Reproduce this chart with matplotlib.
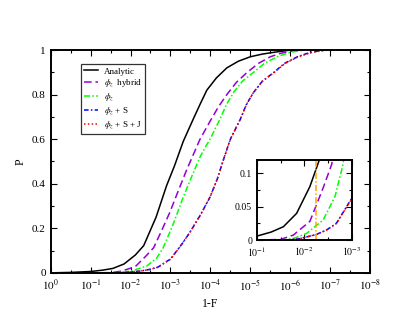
import matplotlib
matplotlib.use("Agg")
import matplotlib.pyplot as plt
import numpy as np
from matplotlib.ticker import FixedLocator, MultipleLocator

plt.rcParams["font.family"] = ["Liberation Serif", "DejaVu Serif"]
plt.rcParams["mathtext.fontset"] = "stix"

# values: exponents of 1-F and the matching P
ANALYTIC_LOGX = [0, -0.5, -1, -1.3, -1.56, -1.84, -2.12, -2.33, -2.47, -2.64, -2.77, -2.9,
                 -3.1, -3.32, -3.57, -3.75, -3.91, -4.15, -4.41, -4.7, -5.0, -5.3, -5.59, -6.0]
ANALYTIC_P = [0.0, 0.002, 0.006, 0.012, 0.02, 0.04, 0.08, 0.122, 0.18, 0.25, 0.32, 0.39,
              0.48, 0.59, 0.69, 0.76, 0.82, 0.875, 0.92, 0.95, 0.97, 0.982, 0.99, 1.0]

HYBRID_LOGX = [-1.0, -1.5, -1.77, -2.12, -2.4, -2.58, -2.78, -2.98, -3.2, -3.4, -3.57, -3.74,
               -3.99, -4.2, -4.41, -4.65, -4.92, -5.2, -5.5, -5.75, -6.0, -6.3]
HYBRID_P = [0.0, 0.001, 0.0075, 0.028, 0.078, 0.113, 0.19, 0.27, 0.37, 0.46, 0.53, 0.60,
            0.68, 0.745, 0.80, 0.855, 0.90, 0.94, 0.97, 0.985, 0.995, 1.0]

PHIZ_LOGX = [-1.5, -1.8, -2.05, -2.4, -2.65, -2.81, -3.05, -3.32, -3.55, -3.74, -3.86, -3.99,
             -4.24, -4.4, -4.58, -4.8, -5.08, -5.35, -5.67, -6.0, -6.35]
PHIZ_P = [0.0, 0.003, 0.01, 0.03, 0.065, 0.11, 0.21, 0.34, 0.44, 0.52, 0.56, 0.60, 0.69,
          0.755, 0.81, 0.86, 0.90, 0.94, 0.97, 0.99, 1.0]

PHIZ_S_LOGX = [-1.6, -1.9, -2.26, -2.47, -2.68, -3.0, -3.25, -3.48, -3.75, -3.99, -4.17,
               -4.33, -4.5, -4.75, -4.9, -5.08, -5.3, -5.59, -5.85, -6.18, -6.5, -6.85]
PHIZ_S_P = [0.0, 0.002, 0.0085, 0.015, 0.025, 0.062, 0.12, 0.18, 0.26, 0.34, 0.42, 0.51,
            0.60, 0.69, 0.755, 0.81, 0.86, 0.90, 0.94, 0.97, 0.99, 1.0]

PHIZ_SJ_LOGX = [-1.6, -1.9, -2.26, -2.47, -2.68, -3.0, -3.25, -3.48, -3.75, -3.99, -4.17,
                -4.33, -4.5, -4.75, -4.9, -5.08, -5.3, -5.6, -5.87, -6.2, -6.55, -6.94]
PHIZ_SJ_P = [0.0, 0.002, 0.0085, 0.015, 0.025, 0.061, 0.12, 0.18, 0.26, 0.34, 0.42, 0.51,
             0.60, 0.69, 0.755, 0.81, 0.86, 0.90, 0.94, 0.97, 0.99, 1.0]

CUT_LOGX = -2.25

SERIES = [
    ("Analytic", ANALYTIC_LOGX, ANALYTIC_P, "black", "-"),
    (r"$\phi_z$  hybrid", HYBRID_LOGX, HYBRID_P, "#9400d3", (0, (5, 2.5))),
    (r"$\phi_z$", PHIZ_LOGX, PHIZ_P, "#00ff00", (0, (4, 1.5, 1, 1.5))),
    (r"$\phi_z$ + S", PHIZ_S_LOGX, PHIZ_S_P, "#0000ff", (0, (3, 1.5, 1, 1.5))),
    (r"$\phi_z$ + S + J", PHIZ_SJ_LOGX, PHIZ_SJ_P, "#ff0000", (0, (1, 1.5))),
]

DECADES = list(range(0, -9, -1))


def style_axis(ax, size):
    ax.tick_params(which="both", direction="in", top=True, right=True, labelsize=size)
    ax.tick_params(which="major", length=4, width=0.8)
    ax.tick_params(which="minor", length=2, width=0.8)
    for sp in ax.spines.values():
        sp.set_linewidth(1.4)


fig = plt.figure(figsize=(4.15, 3.21), dpi=100)
ax = fig.add_axes([0.122, 0.150, 0.770, 0.694])

for label, lx, ps, color, ls in SERIES:
    ax.plot(10.0 ** np.array(lx), ps, color=color, linestyle=ls, linewidth=1.1, label=label)

ax.set_xscale("log")
ax.set_xlim(1, 1e-8)
ax.set_ylim(0, 1)
ax.xaxis.set_major_locator(FixedLocator([10.0 ** k for k in DECADES]))
ax.xaxis.set_minor_locator(FixedLocator([10.0 ** (k - 0.5) for k in DECADES[:-1]]))
ax.set_xticklabels([r"$10^{%d}$" % k for k in DECADES])
ax.set_yticks([0, 0.2, 0.4, 0.6, 0.8, 1.0])
ax.set_yticklabels(["0", "0.2", "0.4", "0.6", "0.8", "1"])
ax.yaxis.set_minor_locator(MultipleLocator(0.1))
style_axis(ax, 8)
ax.set_xlabel("1-F", fontsize=8.5)
ax.set_ylabel("P", fontsize=8.5)

leg = ax.legend(loc="upper left", bbox_to_anchor=(0.094, 0.937), fontsize=6.5,
                frameon=True, fancybox=False, edgecolor="black", handlelength=1.6,
                handletextpad=0.6, labelspacing=0.2, borderpad=0.35,
                borderaxespad=0.0)
leg.get_frame().set_linewidth(0.9)

# inset
ins = fig.add_axes([0.619, 0.252, 0.228, 0.250])
for label, lx, ps, color, ls in SERIES:
    ins.plot(10.0 ** np.array(lx), ps, color=color, linestyle=ls, linewidth=1.1)
ins.axvline(10.0 ** CUT_LOGX, color="#ffa500", linestyle=(0, (4, 1.5, 1, 1.5)), linewidth=1.1)
ins.set_xscale("log")
ins.set_xlim(1e-1, 1e-3)
ins.set_ylim(0, 0.12)
ins.xaxis.set_major_locator(FixedLocator([1e-1, 1e-2, 1e-3]))
ins.xaxis.set_minor_locator(FixedLocator([10**-1.5, 10**-2.5]))
ins.set_xticklabels([r"$10^{-1}$", r"$10^{-2}$", r"$10^{-3}$"])
ins.set_yticks([0, 0.05, 0.1])
ins.set_yticklabels(["0", "0.05", "0.1"])
ins.yaxis.set_minor_locator(MultipleLocator(0.025))
style_axis(ins, 7)

fig.savefig("out.png", dpi=100)
